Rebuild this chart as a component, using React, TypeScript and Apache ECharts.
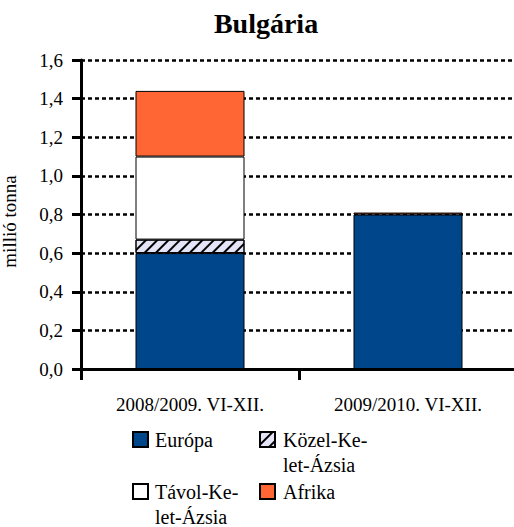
import React, { useEffect, useRef } from "react";
import * as echarts from "echarts";

const categories = ["2008/2009. VI-XII.", "2009/2010. VI-XII."];
const europa = [0.6, 0.8];
const kozelKelet: (number | string)[] = [0.07, "-"];
const tavolKelet: (number | string)[] = [0.43, "-"];
const afrika = [0.34, 0.01];
const yTicks = { min: 0, max: 1.6, interval: 0.2 };

const FONT = "Liberation Serif";
const LH = 25;

export default function App() {
  const ref = useRef<HTMLDivElement>(null);
  useEffect(() => {
    const chart = echarts.init(ref.current!, undefined, { renderer: "svg" });
    const border = { borderColor: "#000", borderWidth: 1 };
    const legText = (pl: number) => ({
      fontFamily: FONT,
      fontSize: 20,
      color: "#000",
      lineHeight: LH,
      padding: [0, 0, 0, pl],
    });
    const legendBase = {
      orient: "vertical",
      padding: 0,
      itemWidth: 15,
      itemHeight: 15,
      icon: "rect",
      selectedMode: false,
    };
    chart.setOption({
      animation: false,
      backgroundColor: "#fff",
      title: {
        text: "Bulgária",
        left: 261,
        top: 4,
        textAlign: "center",
        textStyle: { fontFamily: FONT, fontSize: 28, fontWeight: "bold", color: "#000" },
      },
      grid: { left: 81, right: -3, top: 60, bottom: 158, outerBoundsMode: "none", containLabel: false },
      legend: [
        { ...legendBase, left: 132, top: 427, data: ["Európa"], textStyle: legText(2) },
        {
          ...legendBase,
          left: 259,
          top: 402,
          data: ["Közel-Kelet-Ázsia"],
          textStyle: legText(3),
          formatter: () => " \nKözel-Ke-\nlet-Ázsia",
        },
        {
          ...legendBase,
          left: 132,
          top: 454,
          data: ["Távol-Kelet-Ázsia"],
          textStyle: legText(2),
          formatter: () => " \nTávol-Ke-\nlet-Ázsia",
        },
        { ...legendBase, left: 259, top: 479, data: ["Afrika"], textStyle: legText(3) },
      ],
      xAxis: {
        type: "category",
        data: categories,
        boundaryGap: true,
        axisLine: { show: true, lineStyle: { color: "#000", width: 3 } },
        axisTick: { show: true, length: 11, lineStyle: { color: "#000", width: 3 } },
        axisLabel: { fontFamily: FONT, fontSize: 19, color: "#000", margin: 26 },
      },
      yAxis: {
        type: "value",
        min: yTicks.min,
        max: yTicks.max,
        interval: yTicks.interval,
        name: "millió tonna",
        nameLocation: "middle",
        nameGap: 62,
        nameTextStyle: { fontFamily: FONT, fontSize: 19, color: "#000", padding: [0, 14, 0, 0] },
        axisLine: { show: true, lineStyle: { color: "#000", width: 3 } },
        axisTick: { show: true, length: 9, lineStyle: { color: "#000", width: 3 } },
        axisLabel: {
          fontFamily: FONT,
          fontSize: 19,
          color: "#000",
          margin: 18,
          formatter: (v: number) => v.toFixed(1).replace(".", ","),
        },
        splitLine: { show: true, lineStyle: { color: "#000", width: 2.5, type: [4, 3] } },
      },
      series: [
        {
          name: "Európa",
          type: "bar",
          stack: "total",
          barWidth: "50%",
          data: europa,
          itemStyle: { color: "#00468B", ...border },
        },
        {
          name: "Közel-Kelet-Ázsia",
          type: "bar",
          stack: "total",
          data: kozelKelet,
          itemStyle: {
            color: "#E4E4F8",
            ...border,
            decal: {
              symbol: "rect",
              symbolSize: 1,
              color: "#000",
              dashArrayX: [1, 0],
              dashArrayY: [1.5, 6],
              rotation: -Math.PI / 4,
            },
          },
        },
        {
          name: "Távol-Kelet-Ázsia",
          type: "bar",
          stack: "total",
          data: tavolKelet,
          itemStyle: { color: "#FFFFFF", ...border },
        },
        {
          name: "Afrika",
          type: "bar",
          stack: "total",
          data: afrika,
          itemStyle: { color: "#FF6633", ...border },
        },
      ],
    });
    return () => chart.dispose();
  }, []);
  return (
    <div
      ref={ref}
      style={{ position: "absolute", left: 0, top: 0, width: 514, height: 527, background: "#fff" }}
    />
  );
}
